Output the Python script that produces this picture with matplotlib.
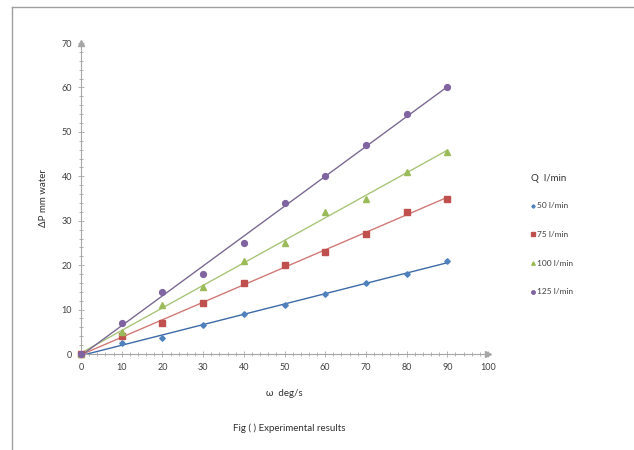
import numpy as np
import matplotlib.pyplot as plt
from matplotlib.lines import Line2D
from matplotlib.ticker import MultipleLocator

omega = [0, 10, 20, 30, 40, 50, 60, 70, 80, 90]
q50 = [0, 2.5, 3.5, 6.5, 9, 11, 13.5, 16, 18, 21]
q75 = [0, 4, 7, 11.5, 16, 20, 23, 27, 32, 35]
q100 = [0, 5, 11, 15, 21, 25, 32, 35, 41, 45.5]
q125 = [0, 7, 14, 18, 25, 34, 40, 47, 54, 60]
labels = ['50 l/min', '75 l/min', '100 l/min', '125 l/min']

plt.rcParams['font.family'] = ['Lato', 'DejaVu Sans']

fig = plt.figure(figsize=(6.34, 4.5), dpi=100)
ax = fig.add_axes([0.1278, 0.2133, 0.6419, 0.6911])

styles = [('D', 2.8, '#4F81BD', '#3D6AA8'),
          ('s', 4.0, '#C0504D', '#D07A78'),
          ('^', 4.2, '#9BBB59', '#A9C57A'),
          ('o', 4.2, '#8064A2', '#7A6A92')]

x = np.array(omega, dtype=float)
handles = []
for ys, (m, ms, c, lc), lab in zip([q50, q75, q100, q125], styles, labels):
    ys = np.array(ys, dtype=float)
    k, b = np.polyfit(x, ys, 1)
    ax.plot([x[0], x[-1]], [k * x[0] + b, k * x[-1] + b], color=lc, lw=1.0, zorder=2)
    ax.plot(x, ys, m, color=c, ms=ms, mec=c, zorder=3, clip_on=False)
    handles.append(Line2D([], [], ls='none', marker=m, color=c, ms=ms * 0.6))

ax.set_xlim(0, 100)
ax.set_ylim(0, 70)
ax.xaxis.set_major_locator(MultipleLocator(10))
ax.yaxis.set_major_locator(MultipleLocator(10))
ax.xaxis.set_minor_locator(MultipleLocator(2))
ax.yaxis.set_minor_locator(MultipleLocator(2))

for s in ['top', 'right']:
    ax.spines[s].set_visible(False)
for s in ['left', 'bottom']:
    ax.spines[s].set_color('#A6A6A6')
    ax.spines[s].set_linewidth(0.8)
ax.tick_params(which='both', direction='inout', color='#A6A6A6', width=0.6,
               labelsize=6.5, labelcolor='#404040')
ax.tick_params(which='major', length=5, pad=4)
ax.tick_params(which='minor', length=3)
ax.plot(1, 0, '>', color='#A6A6A6', ms=4, transform=ax.transAxes, clip_on=False)
ax.plot(0, 1, '^', color='#A6A6A6', ms=4, transform=ax.transAxes, clip_on=False)

ax.set_ylabel('\u0394P mm water', fontsize=7, color='#303030', labelpad=10)
ax.set_xlabel('\u03c9  deg/s', fontsize=7, color='#303030', labelpad=12)

leg = fig.legend(handles, labels, loc='upper left', bbox_to_anchor=(0.825, 0.63),
                 frameon=False, fontsize=6, title='Q  l/min', title_fontsize=7,
                 labelspacing=2.6, handlelength=0.5, handletextpad=0.3,
                 alignment='left')
for t in leg.get_texts():
    t.set_color('#404040')
leg.get_title().set_color('#303030')
leg._legend_box.sep = 14

fig.text(0.457, 0.049, 'Fig ( ) Experimental results', fontsize=7, color='#303030',
         ha='center', va='center')

fig.add_artist(Line2D([0.019, 1.0], [0.984, 0.984], color='#A0A0A0', lw=1.0))
fig.add_artist(Line2D([0.019, 0.019], [0.0, 0.984], color='#A0A0A0', lw=1.0))

fig.savefig('out.png', dpi=100)
